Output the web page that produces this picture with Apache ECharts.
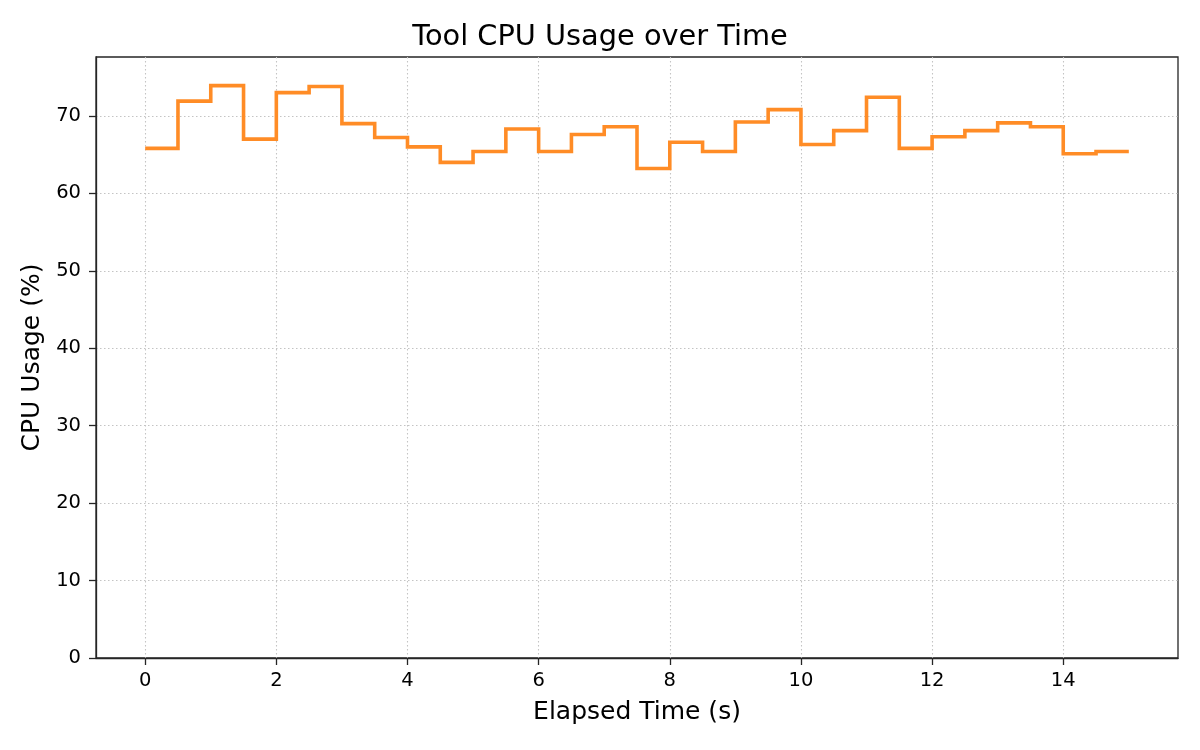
<!DOCTYPE html>
<html>
<head>
<meta charset="utf-8">
<title>Tool CPU Usage over Time</title>
<script src="https://cdn.jsdelivr.net/npm/echarts@6/dist/echarts.min.js"></script>
<style>
  html, body { margin: 0; padding: 0; background: #fff; }
  #chart { width: 1200px; height: 750px; }
</style>
</head>
<body>
<div id="chart"></div>
<script>
// elapsed time (s), one sample every half second
var times = [0, 0.5, 1, 1.5, 2, 2.5, 3, 3.5, 4, 4.5, 5, 5.5, 6, 6.5, 7, 7.5,
             8, 8.5, 9, 9.5, 10, 10.5, 11, 11.5, 12, 12.5, 13, 13.5, 14, 14.5, 15];
// tool CPU usage (%)
var cpuUsage = [65.8, 71.9, 73.9, 67.0, 73.0, 73.8, 69.0, 67.2, 66.0, 64.0, 65.4,
                68.3, 65.4, 67.6, 68.6, 63.2, 66.6, 65.4, 69.2, 70.8, 66.3, 68.1,
                72.4, 65.8, 67.3, 68.1, 69.1, 68.6, 65.1, 65.4, 65.4];
var xTicks = [0, 2, 4, 6, 8, 10, 12, 14];
var yTicks = [0, 10, 20, 30, 40, 50, 60, 70];

var font = 'DejaVu Sans';
var axisColor = '#262626';
var gridStyle = { color: '#c4c4c4', width: 1.1, type: [1.5, 2.5] };

var myChart = echarts.init(document.getElementById('chart'));

var option = {
    animation: false,
    backgroundColor: '#fff',
    title: {
        text: 'Tool CPU Usage over Time',
        left: 'center',
        top: 18,
        textStyle: { fontFamily: font, fontSize: 28.8, fontWeight: 'normal', color: '#000' }
    },
    grid: {
        left: 96, right: 22, top: 57, bottom: 92,
        show: true, borderColor: axisColor, borderWidth: 1.3
    },
    xAxis: {
        type: 'value',
        min: -0.75,
        max: 15.75,
        name: 'Elapsed Time (s)',
        nameLocation: 'middle',
        nameGap: 42,
        nameTextStyle: { fontFamily: font, fontSize: 25, color: '#000' },
        axisLine: { show: true, onZero: false, lineStyle: { color: axisColor, width: 1.3 } },
        axisTick: { show: true, length: 7, customValues: xTicks, lineStyle: { color: axisColor, width: 1.3 } },
        axisLabel: {
            customValues: xTicks, margin: 13,
            fontFamily: font, fontSize: 19.5, color: '#000'
        },
        splitLine: { show: true, lineStyle: gridStyle }
    },
    yAxis: {
        type: 'value',
        min: 0,
        max: 77.6,
        name: 'CPU Usage (%)',
        nameLocation: 'middle',
        nameGap: 50,
        nameTextStyle: { fontFamily: font, fontSize: 25, color: '#000' },
        axisLine: { show: true, onZero: false, lineStyle: { color: axisColor, width: 1.3 } },
        axisTick: { show: true, length: 7, customValues: yTicks, lineStyle: { color: axisColor, width: 1.3 } },
        axisLabel: {
            customValues: yTicks, margin: 15,
            fontFamily: font, fontSize: 19.5, color: '#000'
        },
        splitLine: { show: true, lineStyle: gridStyle }
    },
    series: [{
        name: 'CPU Usage',
        type: 'line',
        step: 'end',
        showSymbol: false,
        data: times.map(function (t, i) { return [t, cpuUsage[i]]; }),
        lineStyle: { color: '#ff8c26', width: 3.6, cap: 'butt', join: 'miter' },
        itemStyle: { color: '#ff8c26' }
    }]
};

myChart.setOption(option);
</script>
</body>
</html>
